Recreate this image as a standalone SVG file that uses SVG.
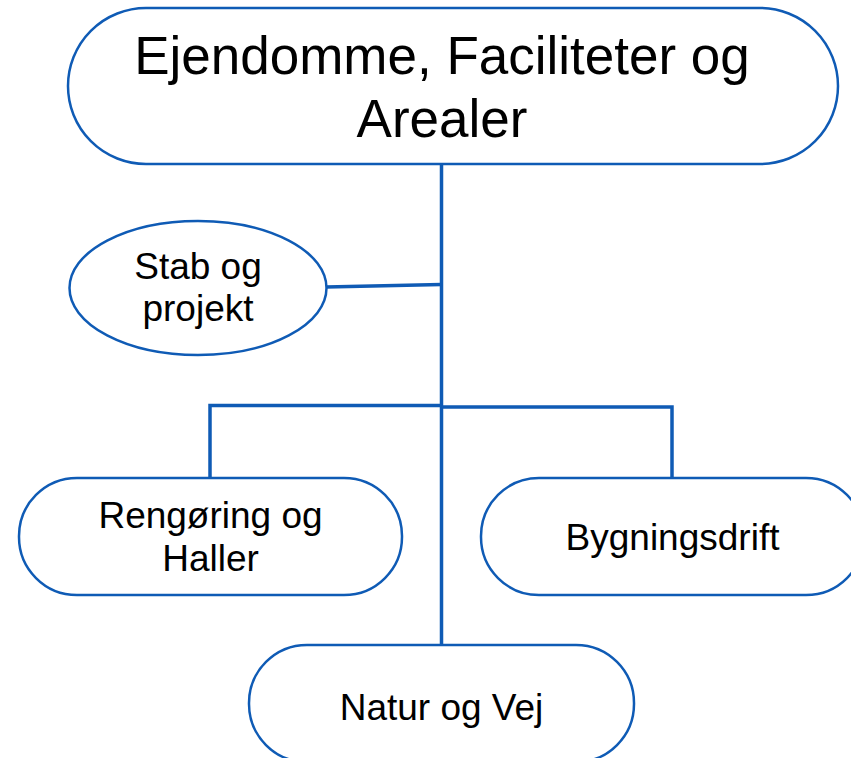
<svg xmlns="http://www.w3.org/2000/svg" width="851" height="758" viewBox="0 0 851 758">
<style>
.node{fill:#ffffff;stroke:#0F5BB5;stroke-width:2.5}
.conn{fill:none;stroke:#0F5BB5;stroke-width:3.5;stroke-linecap:butt}
text{font-family:"Liberation Sans",Arial,sans-serif;fill:#000000;text-anchor:middle}
.t1{font-size:53px}
.t2{font-size:37px}
</style>
<rect width="851" height="758" fill="#ffffff"/>
<g id="connectors">
<line class="conn" x1="441.5" y1="164" x2="441.5" y2="646"/>
<line class="conn" x1="326" y1="287" x2="441.5" y2="284.5"/>
<polyline class="conn" points="210,478 210,405.5 441.5,405.5"/>
<polyline class="conn" points="441.5,407 672,407 672,478"/>
</g>
<g id="node-top">
<rect class="node" x="68" y="8" width="770" height="156" rx="78" ry="78"/>
<text class="t1" x="442" y="74">Ejendomme, Faciliteter og</text>
<text class="t1" x="442" y="137">Arealer</text>
</g>
<g id="node-stab">
<ellipse class="node" cx="198" cy="288" rx="128.5" ry="67"/>
<text class="t2" x="198" y="279">Stab og</text>
<text class="t2" x="198" y="321">projekt</text>
</g>
<g id="node-rengoering">
<rect class="node" x="19" y="478" width="383" height="117" rx="58" ry="58"/>
<text class="t2" x="210.5" y="528">Rengøring og</text>
<text class="t2" x="210.5" y="571">Haller</text>
</g>
<g id="node-bygningsdrift">
<rect class="node" x="481" y="478" width="383" height="117" rx="58" ry="58"/>
<text class="t2" x="672.5" y="550">Bygningsdrift</text>
</g>
<g id="node-natur">
<rect class="node" x="249" y="645" width="385" height="117" rx="58" ry="58"/>
<text class="t2" x="441.5" y="720">Natur og Vej</text>
</g>
</svg>
